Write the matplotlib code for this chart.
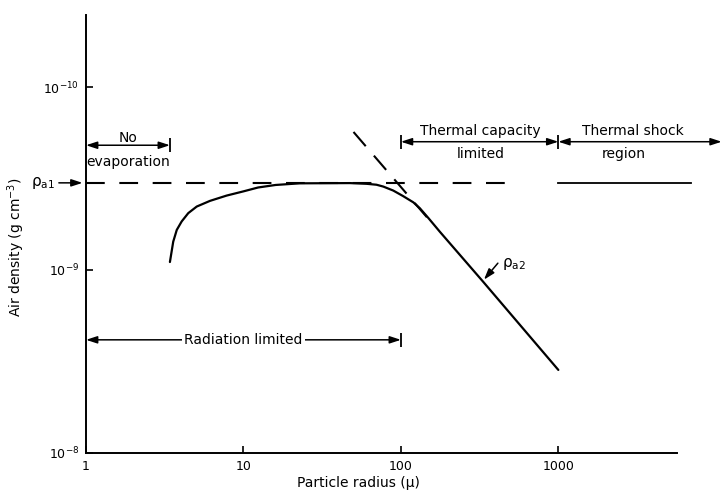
import matplotlib
matplotlib.use("Agg")
import matplotlib.pyplot as plt
from matplotlib.ticker import FixedLocator, NullLocator

# curve (radius in micron, air density in g cm^-3)
radius = [3.41, 3.58, 3.77, 4.05, 4.46, 5.05, 6.13, 7.82, 9.97, 12.4,
          16.0, 22.8, 47.5, 60.6, 70.0, 77.3, 89.4, 103, 120, 132, 150,
          177, 333, 1000]
density = [9.05e-10, 7.00e-10, 6.04e-10, 5.43e-10, 4.89e-10, 4.50e-10,
           4.19e-10, 3.92e-10, 3.72e-10, 3.54e-10, 3.43e-10, 3.36e-10,
           3.35e-10, 3.38e-10, 3.42e-10, 3.50e-10, 3.68e-10, 3.94e-10,
           4.27e-10, 4.60e-10, 5.22e-10, 6.19e-10, 1.16e-9, 3.52e-9]

rho_a1 = 3.34e-10
rho_a1_dash_x = [1, 480]
shock_x = [1000, 7000]
asym_x = [50, 150]
asym_y = [1.76e-10, 5.28e-10]

x_ticks = [1, 10, 100, 1000]
x_labels = ["1", "10", "100", "1000"]
y_ticks = [1e-10, 1e-9, 1e-8]
y_labels = [r"$10^{-10}$", r"$10^{-9}$", r"$10^{-8}$"]

# region arrows: (start, end, level)
no_evap = (1, 3.41, 2.08e-10)
therm_cap = (100, 1000, 1.99e-10)
therm_shock = (1000, 10900, 1.99e-10)
rad_lim = (1, 100, 2.41e-9)

fig = plt.figure(figsize=(7.23, 4.96), dpi=100)
ax = fig.add_axes([0.119, 0.087, 0.817, 0.883])

ax.plot(radius, density, color="black", lw=1.6, solid_capstyle="round",
        solid_joinstyle="round")
ax.plot(rho_a1_dash_x, [rho_a1, rho_a1], color="black", lw=1.5,
        dashes=(9, 7))
ax.plot(shock_x, [rho_a1, rho_a1], color="black", lw=1.3, clip_on=False)
ax.plot(asym_x, asym_y, color="black", lw=1.5, dashes=(9, 6))

ax.set_xscale("log")
ax.set_yscale("log")
ax.set_xlim(1, 5650)
ax.set_ylim(1e-8, 4.03e-11)

ax.xaxis.set_major_locator(FixedLocator(x_ticks))
ax.set_xticklabels(x_labels)
ax.yaxis.set_major_locator(FixedLocator(y_ticks))
ax.set_yticklabels(y_labels)
ax.xaxis.set_minor_locator(NullLocator())
ax.yaxis.set_minor_locator(NullLocator())
ax.tick_params(direction="in", length=5, width=1.2, labelsize=9, pad=5)

for side in ["top", "right"]:
    ax.spines[side].set_visible(False)
for side in ["left", "bottom"]:
    ax.spines[side].set_linewidth(1.4)

ax.set_xlabel("Particle radius (\u03bc)", fontsize=10)
ax.xaxis.set_label_coords(0.462, -0.052)
ax.set_ylabel("Air density (g cm$^{-3}$)", fontsize=10)
ax.yaxis.set_label_coords(-0.10, 0.47)

head = "head_length=0.55,head_width=0.18"
astyle = dict(arrowstyle="<|-|>," + head, color="black", lw=1.1,
              shrinkA=0, shrinkB=0, mutation_scale=12)
one_way = dict(arrowstyle="-|>," + head, color="black", lw=1.1,
               shrinkA=0, shrinkB=0, mutation_scale=12)


def region(seg):
    x0, x1, y = seg
    ax.annotate("", xy=(x0, y), xytext=(x1, y), arrowprops=astyle,
                annotation_clip=False)


for seg in [no_evap, therm_cap, therm_shock, rad_lim]:
    region(seg)

# end bars
bar_pts = [(no_evap[1], no_evap[2]), (therm_cap[0], therm_cap[2]),
           (therm_cap[1], therm_cap[2]), (rad_lim[1], rad_lim[2])]
for bx, by in bar_pts:
    ax.plot([bx], [by], marker="|", ms=10, mew=1.3, color="black",
            clip_on=False)

ax.text(1.85, 1.89e-10, "No", ha="center", va="center", fontsize=10)
ax.text(1.85, 2.56e-10, "evaporation", ha="center", va="center", fontsize=10)
ax.text(320, 1.73e-10, "Thermal capacity", ha="center", va="center",
        fontsize=10)
ax.text(320, 2.32e-10, "limited", ha="center", va="center", fontsize=10)
ax.text(2960, 1.73e-10, "Thermal shock", ha="center", va="center",
        fontsize=10, clip_on=False)
ax.text(2600, 2.32e-10, "region", ha="center", va="center", fontsize=10)
ax.text(10, rad_lim[2], "Radiation limited", ha="center", va="center",
        fontsize=10, bbox=dict(fc="white", ec="none", pad=1.5))

# rho labels
tr = ax.get_yaxis_transform()
ax.annotate("", xy=(-0.006, rho_a1), xytext=(-0.046, rho_a1),
            xycoords=tr, textcoords=tr, annotation_clip=False,
            arrowprops=one_way)
ax.text(-0.052, rho_a1, "\u03c1$_{\\mathrm{a1}}$", transform=tr,
        ha="right", va="center", fontsize=11)

ax.annotate("", xy=(337, 1.13e-9), xytext=(413, 9.18e-10),
            arrowprops=one_way)
ax.text(440, 9.3e-10, "\u03c1$_{\\mathrm{a2}}$", ha="left", va="center",
        fontsize=11)

fig.savefig("out.png", dpi=100)
